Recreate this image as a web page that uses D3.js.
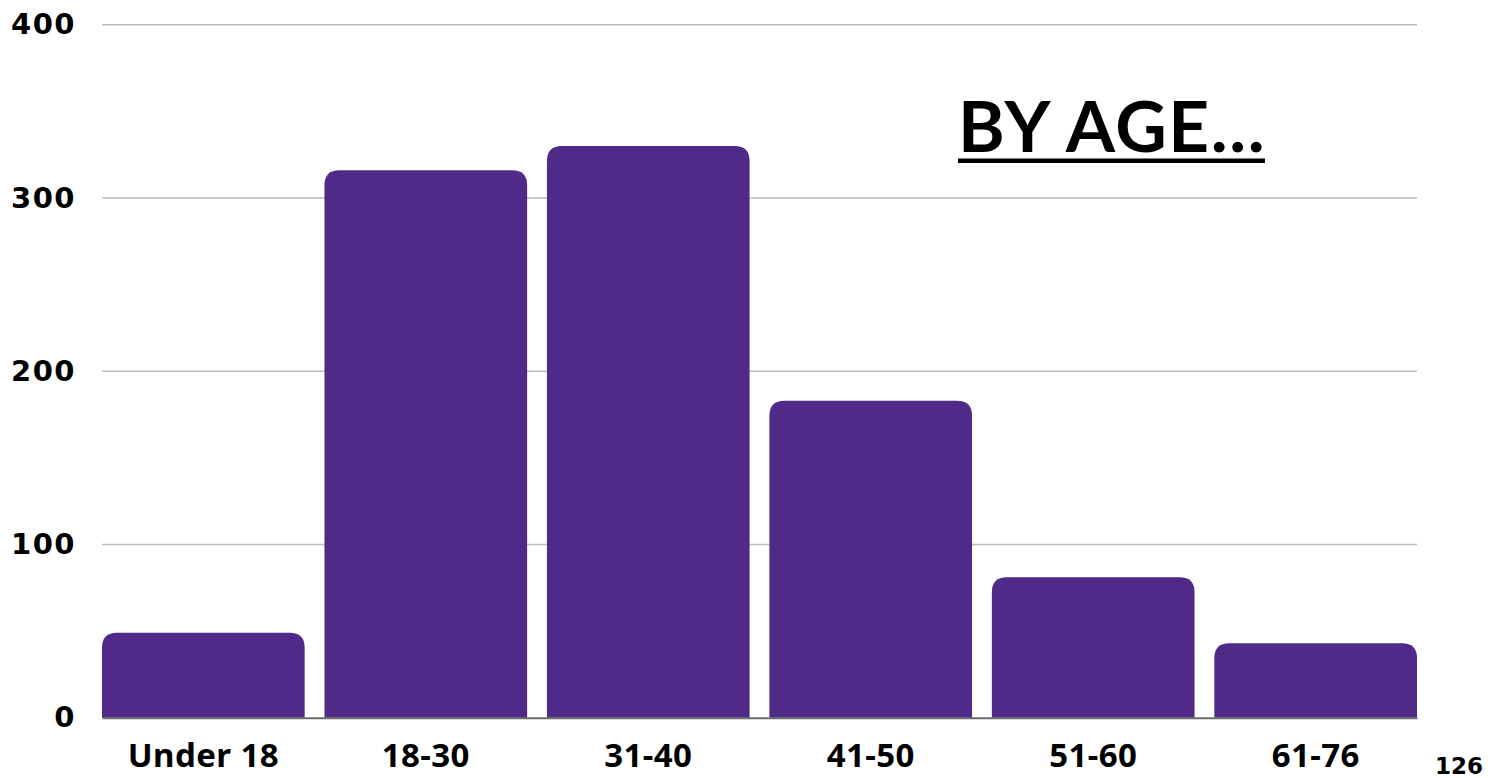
<!DOCTYPE html>
<html>
<head>
<meta charset="utf-8">
<script src="https://cdn.jsdelivr.net/npm/d3@7/dist/d3.min.js"></script>
<style>
  html, body { margin: 0; padding: 0; background: #ffffff; }
  svg { display: block; }
</style>
</head>
<body>
<svg id="chart" width="1499" height="778"></svg>
<script>
const categories = ["Under 18", "18-30", "31-40", "41-50", "51-60", "61-76"];
const values = [49, 316, 330, 183, 81, 43];
const yTicks = [0, 100, 200, 300, 400];
const titleText = "BY AGE...";
const cornerNote = "126";

const plotLeft = 102, plotRight = 1417, plotTop = 24.7, plotBottom = 717.7;
const barColor = "#4f2a88";
const radius = 15;

const svg = d3.select("#chart");

const x = d3.scaleBand().domain(categories).range([plotLeft, plotRight]).paddingInner(0.089).paddingOuter(0);
const y = d3.scaleLinear().domain([0, 400]).range([plotBottom, plotTop]);

// gridlines
svg.append("g").selectAll("line")
  .data(yTicks.filter(d => d > 0))
  .join("line")
  .attr("x1", plotLeft).attr("x2", plotRight)
  .attr("y1", d => y(d)).attr("y2", d => y(d))
  .attr("stroke", "#bdbdbd").attr("stroke-width", 1.5);

// y-axis labels
const yAxis = d3.axisLeft(y).tickValues(yTicks).tickSize(0).tickPadding(0).tickFormat(d3.format("d"));
const gy = svg.append("g").attr("transform", "translate(76,0)").call(yAxis);
gy.select(".domain").remove();
gy.selectAll("text")
  .attr("font-family", "'DejaVu Sans', sans-serif")
  .attr("font-weight", 700)
  .attr("font-size", 29)
  .attr("letter-spacing", 1.5)
  .attr("fill", "#000");

// bars with rounded top corners
function barPath(x0, w, yTop, yBot, r) {
  const rr = Math.min(r, (yBot - yTop), w / 2);
  return `M${x0},${yBot}V${yTop + rr}Q${x0},${yTop} ${x0 + rr},${yTop}H${x0 + w - rr}Q${x0 + w},${yTop} ${x0 + w},${yTop + rr}V${yBot}Z`;
}
svg.append("g").selectAll("path")
  .data(categories.map((c, i) => ({ c, v: values[i] })))
  .join("path")
  .attr("d", d => barPath(x(d.c), x.bandwidth(), y(d.v), y(0), radius))
  .attr("fill", barColor);

// baseline / x axis
const xAxis = d3.axisBottom(x).tickSize(0).tickPadding(0);
const gx = svg.append("g").attr("transform", `translate(0,${y(0)})`).call(xAxis);
gx.select(".domain").attr("stroke", "#6b6b6b").attr("stroke-width", 2);
gx.selectAll("text")
  .attr("dy", null)
  .attr("y", 49)
  .attr("font-family", "'Noto Sans', sans-serif")
  .attr("font-weight", 700)
  .attr("font-size", 33)
  .attr("letter-spacing", 0.4)
  .attr("fill", "#000");

// title
const title = svg.append("text")
  .attr("x", 958).attr("y", 152)
  .attr("font-family", "Lato, sans-serif")
  .attr("font-weight", 700)
  .attr("font-size", 71)
  .attr("letter-spacing", 1.6)
  .attr("fill", "#000")
  .text(titleText);
svg.append("rect")
  .attr("x", 958).attr("y", 158.5).attr("width", 1265 - 958).attr("height", 4.5)
  .attr("fill", "#000");

// corner note
svg.append("text")
  .attr("x", 1483).attr("y", 774)
  .attr("text-anchor", "end")
  .attr("font-family", "'DejaVu Sans', sans-serif")
  .attr("font-weight", 700)
  .attr("font-size", 23)
  .attr("fill", "#000")
  .text(cornerNote);
</script>
</body>
</html>
